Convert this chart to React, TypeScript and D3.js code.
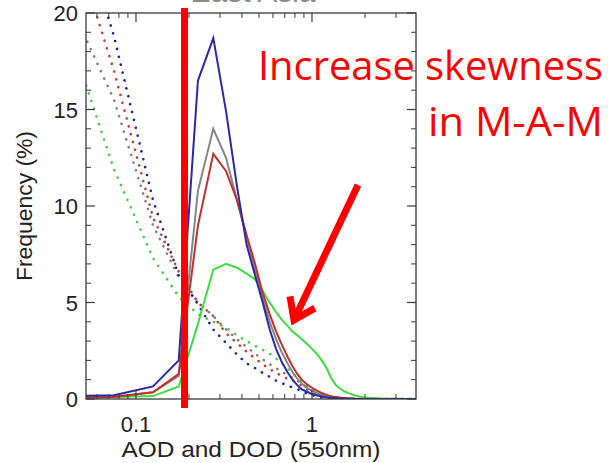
import React from "react";
import * as d3 from "d3";

// AOD bin centres (550 nm)
const bins = [
  0.025, 0.075, 0.125, 0.175, 0.225, 0.275, 0.325, 0.375, 0.425, 0.475,
  0.525, 0.575, 0.625, 0.675, 0.725, 0.775, 0.825, 0.875, 0.925, 0.975,
  1.025, 1.075, 1.125, 1.175, 1.225, 1.275, 1.325, 1.375, 1.425, 1.475,
  1.525, 1.575, 1.625, 1.675, 1.725, 1.775, 1.825, 1.875, 1.925, 1.975,
  2.5, 3.0, 3.5, 4.0,
];

// Solid lines: AOD frequency (%)
const aodBlue = [
  0.1, 0.2, 0.65, 2.0, 16.5, 18.7, 14.9, 11.0, 8.0, 6.4,
  5.0, 3.6, 2.6, 1.9, 1.4, 1.0, 0.72, 0.5, 0.4, 0.3,
  0.23, 0.18, 0.14, 0.1, 0.08, 0.06, 0.05, 0.04, 0.03, 0.02,
  0.02, 0.01, 0.01, 0.01, 0, 0, 0, 0, 0, 0,
  0, 0, 0, 0,
];
const aodGray = [
  0.05, 0.12, 0.35, 1.2, 10.8, 14.0, 12.5, 10.3, 8.4, 6.7,
  5.2, 4.0, 3.1, 2.4, 1.85, 1.4, 1.05, 0.8, 0.6, 0.48,
  0.38, 0.3, 0.23, 0.18, 0.14, 0.11, 0.09, 0.07, 0.05, 0.04,
  0.03, 0.02, 0.02, 0.01, 0.01, 0, 0, 0, 0, 0,
  0, 0, 0, 0,
];
const aodRed = [
  0.05, 0.1, 0.35, 1.3, 9.0, 12.7, 11.8, 10.3, 8.5, 7.0,
  5.5, 4.4, 3.5, 2.8, 2.2, 1.7, 1.3, 1.0, 0.8, 0.65,
  0.52, 0.42, 0.33, 0.26, 0.2, 0.15, 0.12, 0.1, 0.08, 0.06,
  0.05, 0.04, 0.03, 0.02, 0.02, 0.01, 0.01, 0, 0, 0,
  0, 0, 0, 0,
];
const aodGreen = [
  0.05, 0.1, 0.15, 0.65, 3.9, 6.7, 7.0, 6.8, 6.5, 6.2,
  5.6, 5.0, 4.5, 4.1, 3.8, 3.5, 3.3, 3.1, 2.9, 2.7,
  2.5, 2.3, 2.05, 1.8, 1.5, 1.15, 0.9, 0.7, 0.58, 0.48,
  0.4, 0.34, 0.29, 0.25, 0.21, 0.18, 0.15, 0.12, 0.1, 0.08,
  0.02, 0.01, 0, 0,
];

// Dotted lines: DOD frequency (%)
const dodBlue = [
  33, 18.8, 10.3, 6.4, 4.9, 3.6, 2.9, 2.3, 1.85, 1.6,
  1.35, 1.15, 0.95, 0.82, 0.7, 0.6, 0.52, 0.4, 0.3, 0.24,
  0.18, 0.12, 0.08, 0.05, 0.03, 0.02, 0.01, 0, 0, 0,
  0, 0, 0, 0, 0, 0, 0, 0, 0, 0,
  0, 0, 0, 0,
];
const dodRed = [
  31, 17.0, 9.4, 6.6, 5.0, 4.3, 3.4, 2.9, 2.45, 2.1,
  1.8, 1.55, 1.35, 1.2, 1.05, 0.95, 0.85, 0.7, 0.55, 0.42,
  0.32, 0.24, 0.18, 0.13, 0.1, 0.07, 0.05, 0.04, 0.03, 0.02,
  0.01, 0.01, 0, 0, 0, 0, 0, 0, 0, 0,
  0, 0, 0, 0,
];
const dodGray = [
  25, 15.5, 9.0, 6.3, 5.0, 4.3, 3.6, 3.1, 2.7, 2.35,
  2.05, 1.8, 1.6, 1.4, 1.25, 1.1, 0.95, 0.8, 0.65, 0.5,
  0.38, 0.28, 0.2, 0.15, 0.11, 0.08, 0.06, 0.04, 0.03, 0.02,
  0.01, 0.01, 0, 0, 0, 0, 0, 0, 0, 0,
  0, 0, 0, 0,
];
const dodGreen = [
  25, 11.9, 7.3, 5.3, 4.4, 4.0, 3.7, 3.3, 3.0, 2.75,
  2.55, 2.35, 2.1, 1.85, 1.6, 1.35, 1.1, 0.9, 0.7, 0.55,
  0.42, 0.32, 0.24, 0.18, 0.13, 0.1, 0.07, 0.05, 0.04, 0.03,
  0.02, 0.01, 0.01, 0, 0, 0, 0, 0, 0, 0,
  0, 0, 0, 0,
];

const yTickLabels = ["0", "5", "10", "15", "20"];
const yMajor = [0, 5, 10, 15, 20];
const yMinor = [1, 2, 3, 4, 6, 7, 8, 9, 11, 12, 13, 14, 16, 17, 18, 19];
const xMajor = [0.1, 1];
const xMajorLabels = ["0.1", "1"];
const xMinor = [0.06, 0.07, 0.08, 0.09, 0.2, 0.3, 0.4, 0.5, 0.6, 0.7, 0.8, 0.9, 2, 3];

const solidSeries = [
  { values: aodGreen, color: "#3ddc3d" },
  { values: aodGray, color: "#858585" },
  { values: aodRed, color: "#c0302c" },
  { values: aodBlue, color: "#2a2aa6" },
];
const dottedSeries = [
  { values: dodGreen, color: "#45cc45" },
  { values: dodGray, color: "#808080" },
  { values: dodRed, color: "#cc3a33" },
  { values: dodBlue, color: "#22229a" },
];

const W = 614;
const H = 463;
const L = 86, R = 416, T = 13, B = 399;

export default function App() {
  const x = d3.scaleLog().domain([0.052, 3.9]).range([L, R]);
  const y = d3.scaleLinear().domain([0, 20]).range([B, T]);
  const line = (vals: number[]) =>
    d3
      .line<number>()
      .x((_, i) => x(bins[i]))
      .y((v) => y(v))(vals) || "";

  const axisColor = "#3a3a3a";
  const font = "'Liberation Sans', Arial, sans-serif";

  // arrow geometry
  const ax0 = 358, ay0 = 185, ax1 = 294, ay1 = 320;
  const dx = ax0 - ax1, dy = ay0 - ay1;
  const len = Math.hypot(dx, dy);
  const ux = dx / len, uy = dy / len;
  const ang = (35 * Math.PI) / 180;
  const arm = 24;
  const a1x = ax1 + arm * (ux * Math.cos(ang) - uy * Math.sin(ang));
  const a1y = ay1 + arm * (ux * Math.sin(ang) + uy * Math.cos(ang));
  const a2x = ax1 + arm * (ux * Math.cos(-ang) - uy * Math.sin(-ang));
  const a2y = ay1 + arm * (ux * Math.sin(-ang) + uy * Math.cos(-ang));

  return (
    <svg
      width={W}
      height={H}
      style={{ position: "absolute", left: 0, top: 0, background: "#fff" }}
    >
      <defs>
        <clipPath id="plot">
          <rect x={L} y={T - 2} width={R - L} height={B - T + 2} />
        </clipPath>
      </defs>
      <rect width={W} height={H} fill="#fff" />

      {/* cut-off title */}
      <text
        x={(L + R) / 2 + 2}
        y={2}
        textAnchor="middle"
        fontFamily={font}
        fontSize={30}
        fill="#8a8a8a"
      >
        East Asia
      </text>

      <g clipPath="url(#plot)">
        {dottedSeries.map((s, i) => (
          <path
            key={"d" + i}
            d={line(s.values)}
            fill="none"
            stroke={s.color}
            strokeWidth={2.6}
            strokeLinecap="round"
            strokeDasharray="0.1 8"
          />
        ))}
        {solidSeries.map((s, i) => (
          <path
            key={"s" + i}
            d={line(s.values)}
            fill="none"
            stroke={s.color}
            strokeWidth={2}
            strokeLinejoin="miter"
          />
        ))}
      </g>

      {/* frame */}
      <rect x={L} y={T} width={R - L} height={B - T} fill="none" stroke={axisColor} strokeWidth={1.3} />

      {/* y ticks */}
      {yMajor.map((v, i) => (
        <g key={"ym" + v}>
          <line x1={L} x2={L + 9} y1={y(v)} y2={y(v)} stroke={axisColor} strokeWidth={1.2} />
          <line x1={R} x2={R - 9} y1={y(v)} y2={y(v)} stroke={axisColor} strokeWidth={1.2} />
          <text
            x={L - 8}
            y={y(v) + 8}
            textAnchor="end"
            fontFamily={font}
            fontSize={22}
            fill="#222"
          >
            {yTickLabels[i]}
          </text>
        </g>
      ))}
      {yMinor.map((v) => (
        <g key={"yn" + v}>
          <line x1={L} x2={L + 5} y1={y(v)} y2={y(v)} stroke={axisColor} strokeWidth={1} />
          <line x1={R} x2={R - 5} y1={y(v)} y2={y(v)} stroke={axisColor} strokeWidth={1} />
        </g>
      ))}

      {/* x ticks */}
      {xMajor.map((v, i) => (
        <g key={"xm" + v}>
          <line x1={x(v)} x2={x(v)} y1={B} y2={B - 9} stroke={axisColor} strokeWidth={1.2} />
          <line x1={x(v)} x2={x(v)} y1={T} y2={T + 9} stroke={axisColor} strokeWidth={1.2} />
          <text
            x={x(v)}
            y={432}
            textAnchor="middle"
            fontFamily={font}
            fontSize={22}
            fill="#222"
          >
            {xMajorLabels[i]}
          </text>
        </g>
      ))}
      {xMinor.map((v) => (
        <g key={"xn" + v}>
          <line x1={x(v)} x2={x(v)} y1={B} y2={B - 5} stroke={axisColor} strokeWidth={1} />
          <line x1={x(v)} x2={x(v)} y1={T} y2={T + 5} stroke={axisColor} strokeWidth={1} />
        </g>
      ))}

      {/* axis titles */}
      <text
        x={(L + R) / 2}
        y={457}
        textAnchor="middle"
        fontFamily={font}
        fontSize={22}
        fill="#222"
        textLength={259}
        lengthAdjust="spacingAndGlyphs"
      >
        AOD and DOD (550nm)
      </text>
      <text
        transform={`translate(32, ${(T + B) / 2}) rotate(-90)`}
        textAnchor="middle"
        fontFamily={font}
        fontSize={22}
        fill="#222"
        textLength={150}
        lengthAdjust="spacingAndGlyphs"
      >
        Frequency (%)
      </text>

      {/* annotations */}
      <rect x={181} y={8} width={7} height={400} fill="#ff0000" />
      <text
        x={603}
        y={80}
        textAnchor="end"
        fontFamily="'Open Sans', 'Noto Sans', sans-serif"
        fontSize={41}
        fill="#ff0000"
        textLength={345}
        lengthAdjust="spacingAndGlyphs"
      >
        Increase skewness
      </text>
      <text
        x={603}
        y={136}
        textAnchor="end"
        fontFamily="'Open Sans', 'Noto Sans', sans-serif"
        fontSize={41}
        fill="#ff0000"
        textLength={175}
        lengthAdjust="spacingAndGlyphs"
      >
        in M-A-M
      </text>
      <line x1={ax0} y1={ay0} x2={ax1} y2={ay1} stroke="#ff0000" strokeWidth={7} />
      <polyline
        points={`${a1x},${a1y} ${ax1},${ay1} ${a2x},${a2y}`}
        fill="none"
        stroke="#ff0000"
        strokeWidth={7}
        strokeLinejoin="miter"
      />
    </svg>
  );
}
